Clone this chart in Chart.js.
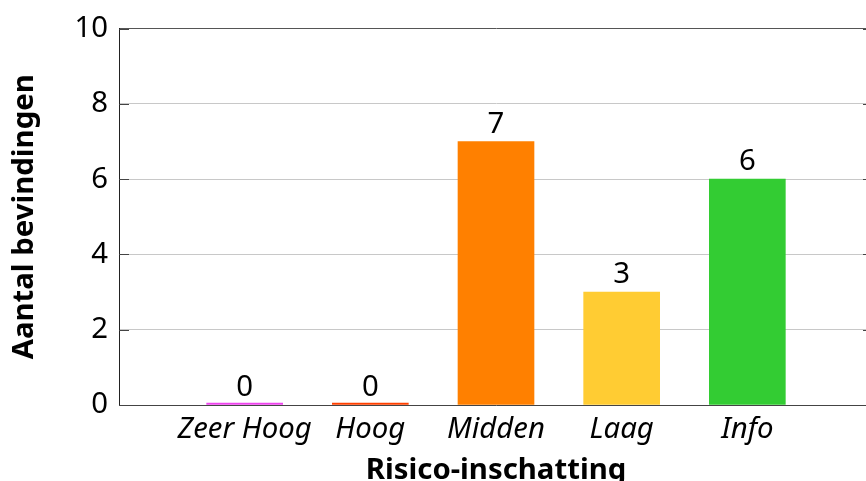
<!DOCTYPE html>
<html>
<head>
<meta charset="utf-8">
<script src="https://cdn.jsdelivr.net/npm/chart.js@4/dist/chart.umd.min.js"></script>
<style>
  html, body { margin: 0; padding: 0; overflow: hidden; background: #fff; }
  #wrap { position: relative; width: 880px; height: 500px; }
</style>
</head>
<body>
<div id="wrap"><canvas id="c"></canvas></div>
<script>
// Findings per risk level
const categories = ['Zeer Hoog', 'Hoog', 'Midden', 'Laag', 'Info'];
const counts = [0, 0, 7, 3, 6];
const barColors = ['#EE44EE', '#FF4000', '#FF8000', '#FFCC33', '#33CC33'];
const yTicks = [0, 2, 4, 6, 8, 10];

// One empty slot on each side keeps the bars away from the axes
const labels = [''].concat(categories, ['']);
const values = [null].concat(counts, [null]);
const colors = ['#fff'].concat(barColors, ['#fff']);

const FONT = '"Noto Sans", "Open Sans", sans-serif';
const SIZE = 29.33;

// Short dark tick marks on the inside of the left and right edges
const innerTicks = {
  id: 'innerTicks',
  afterDatasetsDraw(chart) {
    const { ctx, chartArea, scales } = chart;
    const y = scales.y;
    ctx.save();
    ctx.strokeStyle = '#444';
    ctx.lineWidth = 1;
    y.ticks.forEach(t => {
      const py = Math.round(y.getPixelForValue(t.value)) + 0.5;
      ctx.beginPath();
      ctx.moveTo(chartArea.left, py);
      ctx.lineTo(chartArea.left + 10, py);
      ctx.moveTo(chartArea.right - 10, py);
      ctx.lineTo(chartArea.right, py);
      ctx.stroke();
    });
    ctx.restore();
  }
};

// Count written above each bar
const valueLabels = {
  id: 'valueLabels',
  afterDatasetsDraw(chart) {
    const { ctx, scales } = chart;
    const meta = chart.getDatasetMeta(0);
    ctx.save();
    ctx.font = SIZE + 'px ' + FONT;
    ctx.fillStyle = '#000';
    ctx.textAlign = 'center';
    ctx.textBaseline = 'alphabetic';
    meta.data.forEach((el, i) => {
      const v = values[i];
      if (v === null) return;
      ctx.fillText(String(v), el.x, scales.y.getPixelForValue(v) - 9);
    });
    ctx.restore();
  }
};

new Chart(document.getElementById('c'), {
  type: 'bar',
  data: {
    labels: labels,
    datasets: [{
      data: values,
      backgroundColor: colors,
      borderWidth: 0,
      barThickness: 76,
      minBarLength: 2
    }]
  },
  options: {
    responsive: true,
    maintainAspectRatio: false,
    animation: false,
    layout: { padding: { top: 27, right: 5, left: 0, bottom: 0 } },
    plugins: { legend: { display: false }, tooltip: { enabled: false } },
    scales: {
      x: {
        type: 'category',
        offset: false,
        grid: { display: true, color: 'rgba(0,0,0,0)', drawTicks: false },
        border: { display: true, color: '#444', width: 1 },
        ticks: {
          color: '#000',
          font: { family: FONT, size: SIZE, style: 'italic' },
          padding: 7,
          maxRotation: 0,
          autoSkip: false
        },
        title: {
          display: true,
          text: 'Risico-inschatting',
          color: '#000',
          font: { family: FONT, size: SIZE, weight: 'bold' },
          padding: { top: 0, bottom: 12 }
        },
        afterFit(scale) { scale.height = 95; }
      },
      y: {
        min: 0,
        max: 10,
        afterBuildTicks(scale) { scale.ticks = yTicks.map(v => ({ value: v })); },
        grid: {
          color: ctx => (ctx.tick && ctx.tick.value === 10) ? '#555' : '#c8c8c8',
          lineWidth: 1,
          drawTicks: false
        },
        border: { display: true, color: '#222', width: 1 },
        ticks: {
          color: '#000',
          font: { family: FONT, size: SIZE },
          padding: 11
        },
        title: {
          display: true,
          text: 'Aantal bevindingen',
          color: '#000',
          font: { family: FONT, size: SIZE, weight: 'bold' },
          padding: { top: 7, bottom: 0 }
        },
        afterFit(scale) { scale.width = 119; }
      }
    }
  },
  plugins: [innerTicks, valueLabels]
});
</script>
</body>
</html>
